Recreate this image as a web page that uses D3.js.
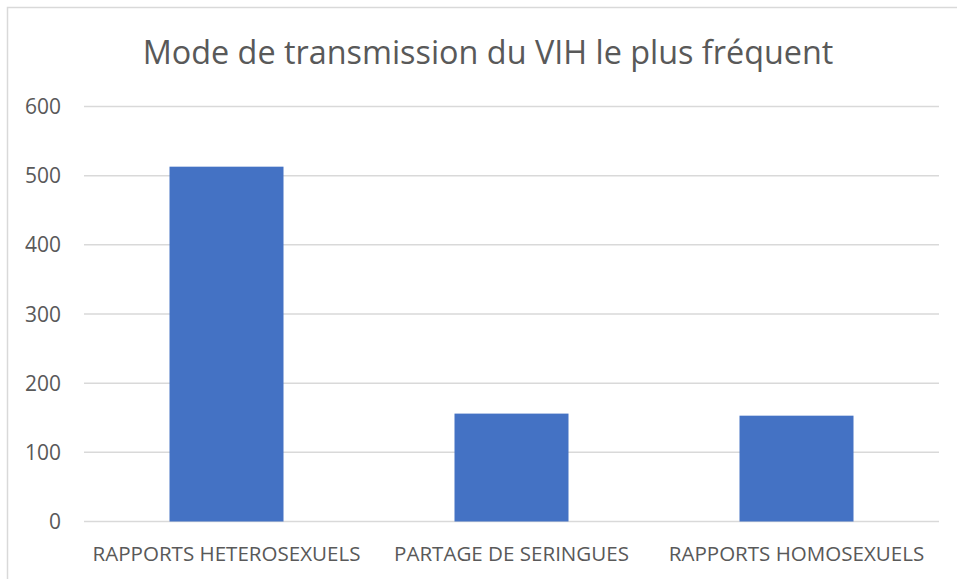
<!DOCTYPE html>
<html>
<head>
<meta charset="utf-8">
<script src="https://cdn.jsdelivr.net/npm/d3@7"></script>
<style>
  body { margin: 0; background: #fff; }
  text { font-family: "Open Sans", sans-serif; fill: #595959; }
</style>
</head>
<body>
<div id="chart"></div>
<script>
// data
const chartTitle = "Mode de transmission du VIH le plus fréquent"
const categories = ["RAPPORTS HETEROSEXUELS", "PARTAGE DE SERINGUES", "RAPPORTS HOMOSEXUELS"]
const values = [513, 156, 153]
const yTicks = [0, 100, 200, 300, 400, 500, 600]

const W = 957, H = 579
const margin = {top: 106.5, right: 18, bottom: 57.5, left: 84}

const svg = d3.select("#chart").append("svg")
    .attr("width", W)
    .attr("height", H)

// chart frame (only top/left edges are in view)
svg.append("rect")
    .attr("x", 7.5).attr("y", 7.5)
    .attr("width", 980).attr("height", 600)
    .attr("fill", "none")
    .attr("stroke", "#d9d9d9")
    .attr("stroke-width", 1.5)

const x = d3.scaleBand()
    .domain(categories)
    .range([margin.left, W - margin.right])
    .paddingInner(0.6)
    .paddingOuter(0.3)

const y = d3.scaleLinear()
    .domain([0, 600])
    .range([H - margin.bottom, margin.top])

// gridlines
svg.append("g")
    .selectAll("line")
    .data(yTicks)
    .enter()
    .append("line")
    .attr("x1", margin.left)
    .attr("x2", W - margin.right)
    .attr("y1", d => y(d))
    .attr("y2", d => y(d))
    .attr("stroke", "#d9d9d9")
    .attr("stroke-width", 1.5)

// y tick labels, sized so "600" spans ~36px
let tickLabels = svg.append("g")
    .selectAll("text")
    .data(yTicks)
    .enter()
    .append("text")
    .attr("x", 61)
    .attr("y", d => y(d))
    .attr("dy", "0.36em")
    .attr("text-anchor", "end")
    .style("font-size", "20px")
    .text(d => d)

let w600 = tickLabels.filter(d => d == 600).node().getComputedTextLength()
tickLabels.style("font-size", (20 * 36 / w600) + "px")

// bars
svg.append("g")
    .selectAll("rect")
    .data(values)
    .enter()
    .append("rect")
    .attr("x", (d, i) => x(categories[i]))
    .attr("width", x.bandwidth())
    .attr("y", d => y(d))
    .attr("height", d => y(0) - y(d))
    .attr("fill", "#4472c4")

// category labels, sized so the first one spans ~268px like the reference
let catLabels = svg.append("g")
    .selectAll("text")
    .data(categories)
    .enter()
    .append("text")
    .attr("x", d => x(d) + x.bandwidth() / 2)
    .attr("y", 561)
    .attr("text-anchor", "middle")
    .style("font-size", "18px")
    .text(d => d)

let w0 = catLabels.node().getComputedTextLength()
catLabels.style("font-size", (18 * 268 / w0) + "px")

// title
let title = svg.append("text")
    .attr("x", 488)
    .attr("y", 63.5)
    .attr("text-anchor", "middle")
    .style("font-size", "30px")
    .text(chartTitle)

let tw = title.node().getComputedTextLength()
title.style("font-size", (30 * 691 / tw) + "px")
</script>
</body>
</html>
